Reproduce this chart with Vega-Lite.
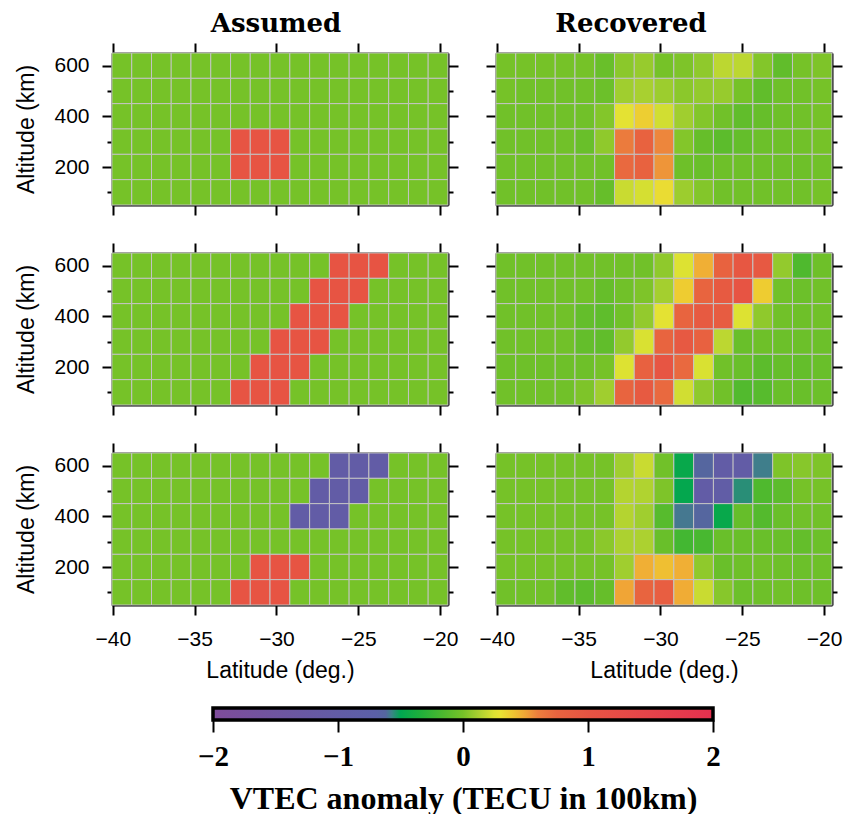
{
"$schema": "https://vega.github.io/schema/vega-lite/v6.json",
"background": "white",
"padding": {"left": 15, "top": 11, "right": 5, "bottom": 0},
"config": {
  "view": {"stroke": null},
  "axis": {"tickSize": 10, "tickWidth": 2, "domainWidth": 2, "domainColor": "black", "tickColor": "black", "zindex": 1, "grid": false, "labelFont": "Liberation Sans", "labelFontSize": 21, "labelColor": "black", "titleFont": "Liberation Sans", "titleFontSize": 23, "titleFontWeight": "normal", "titleColor": "black", "labelPadding": 13, "labelFlush": false}
},
"datasets": {
"A1": [
{"lat":-39.45,"alt":600,"v":0},{"lat":-38.24,"alt":600,"v":0},{"lat":-37.03,"alt":600,"v":0},{"lat":-35.83,"alt":600,"v":0},{"lat":-34.62,"alt":600,"v":0},{"lat":-33.41,"alt":600,"v":0},{"lat":-32.2,"alt":600,"v":0},{"lat":-31,"alt":600,"v":0},{"lat":-29.79,"alt":600,"v":0},{"lat":-28.58,"alt":600,"v":0},{"lat":-27.37,"alt":600,"v":0},{"lat":-26.16,"alt":600,"v":0},{"lat":-24.96,"alt":600,"v":0},{"lat":-23.75,"alt":600,"v":0},{"lat":-22.54,"alt":600,"v":0},{"lat":-21.33,"alt":600,"v":0},{"lat":-20.13,"alt":600,"v":0},
{"lat":-39.45,"alt":500,"v":0},{"lat":-38.24,"alt":500,"v":0},{"lat":-37.03,"alt":500,"v":0},{"lat":-35.83,"alt":500,"v":0},{"lat":-34.62,"alt":500,"v":0},{"lat":-33.41,"alt":500,"v":0},{"lat":-32.2,"alt":500,"v":0},{"lat":-31,"alt":500,"v":0},{"lat":-29.79,"alt":500,"v":0},{"lat":-28.58,"alt":500,"v":0},{"lat":-27.37,"alt":500,"v":0},{"lat":-26.16,"alt":500,"v":0},{"lat":-24.96,"alt":500,"v":0},{"lat":-23.75,"alt":500,"v":0},{"lat":-22.54,"alt":500,"v":0},{"lat":-21.33,"alt":500,"v":0},{"lat":-20.13,"alt":500,"v":0},
{"lat":-39.45,"alt":400,"v":0},{"lat":-38.24,"alt":400,"v":0},{"lat":-37.03,"alt":400,"v":0},{"lat":-35.83,"alt":400,"v":0},{"lat":-34.62,"alt":400,"v":0},{"lat":-33.41,"alt":400,"v":0},{"lat":-32.2,"alt":400,"v":0},{"lat":-31,"alt":400,"v":0},{"lat":-29.79,"alt":400,"v":0},{"lat":-28.58,"alt":400,"v":0},{"lat":-27.37,"alt":400,"v":0},{"lat":-26.16,"alt":400,"v":0},{"lat":-24.96,"alt":400,"v":0},{"lat":-23.75,"alt":400,"v":0},{"lat":-22.54,"alt":400,"v":0},{"lat":-21.33,"alt":400,"v":0},{"lat":-20.13,"alt":400,"v":0},
{"lat":-39.45,"alt":300,"v":0},{"lat":-38.24,"alt":300,"v":0},{"lat":-37.03,"alt":300,"v":0},{"lat":-35.83,"alt":300,"v":0},{"lat":-34.62,"alt":300,"v":0},{"lat":-33.41,"alt":300,"v":0},{"lat":-32.2,"alt":300,"v":1},{"lat":-31,"alt":300,"v":1},{"lat":-29.79,"alt":300,"v":1},{"lat":-28.58,"alt":300,"v":0},{"lat":-27.37,"alt":300,"v":0},{"lat":-26.16,"alt":300,"v":0},{"lat":-24.96,"alt":300,"v":0},{"lat":-23.75,"alt":300,"v":0},{"lat":-22.54,"alt":300,"v":0},{"lat":-21.33,"alt":300,"v":0},{"lat":-20.13,"alt":300,"v":0},
{"lat":-39.45,"alt":200,"v":0},{"lat":-38.24,"alt":200,"v":0},{"lat":-37.03,"alt":200,"v":0},{"lat":-35.83,"alt":200,"v":0},{"lat":-34.62,"alt":200,"v":0},{"lat":-33.41,"alt":200,"v":0},{"lat":-32.2,"alt":200,"v":1},{"lat":-31,"alt":200,"v":1},{"lat":-29.79,"alt":200,"v":1},{"lat":-28.58,"alt":200,"v":0},{"lat":-27.37,"alt":200,"v":0},{"lat":-26.16,"alt":200,"v":0},{"lat":-24.96,"alt":200,"v":0},{"lat":-23.75,"alt":200,"v":0},{"lat":-22.54,"alt":200,"v":0},{"lat":-21.33,"alt":200,"v":0},{"lat":-20.13,"alt":200,"v":0},
{"lat":-39.45,"alt":100,"v":0},{"lat":-38.24,"alt":100,"v":0},{"lat":-37.03,"alt":100,"v":0},{"lat":-35.83,"alt":100,"v":0},{"lat":-34.62,"alt":100,"v":0},{"lat":-33.41,"alt":100,"v":0},{"lat":-32.2,"alt":100,"v":0},{"lat":-31,"alt":100,"v":0},{"lat":-29.79,"alt":100,"v":0},{"lat":-28.58,"alt":100,"v":0},{"lat":-27.37,"alt":100,"v":0},{"lat":-26.16,"alt":100,"v":0},{"lat":-24.96,"alt":100,"v":0},{"lat":-23.75,"alt":100,"v":0},{"lat":-22.54,"alt":100,"v":0},{"lat":-21.33,"alt":100,"v":0},{"lat":-20.13,"alt":100,"v":0}
],
"R1": [
{"lat":-39.45,"alt":600,"v":0},{"lat":-38.24,"alt":600,"v":0},{"lat":-37.03,"alt":600,"v":0},{"lat":-35.83,"alt":600,"v":0},{"lat":-34.62,"alt":600,"v":0},{"lat":-33.41,"alt":600,"v":-0.05},{"lat":-32.2,"alt":600,"v":0.05},{"lat":-31,"alt":600,"v":0.08},{"lat":-29.79,"alt":600,"v":0},{"lat":-28.58,"alt":600,"v":0.02},{"lat":-27.37,"alt":600,"v":0.06},{"lat":-26.16,"alt":600,"v":0.17},{"lat":-24.96,"alt":600,"v":0.17},{"lat":-23.75,"alt":600,"v":0.03},{"lat":-22.54,"alt":600,"v":-0.08},{"lat":-21.33,"alt":600,"v":0},{"lat":-20.13,"alt":600,"v":0.02},
{"lat":-39.45,"alt":500,"v":0},{"lat":-38.24,"alt":500,"v":-0.02},{"lat":-37.03,"alt":500,"v":-0.02},{"lat":-35.83,"alt":500,"v":-0.02},{"lat":-34.62,"alt":500,"v":-0.02},{"lat":-33.41,"alt":500,"v":-0.04},{"lat":-32.2,"alt":500,"v":0.1},{"lat":-31,"alt":500,"v":0.12},{"lat":-29.79,"alt":500,"v":0.09},{"lat":-28.58,"alt":500,"v":0.05},{"lat":-27.37,"alt":500,"v":0.07},{"lat":-26.16,"alt":500,"v":0.08},{"lat":-24.96,"alt":500,"v":0},{"lat":-23.75,"alt":500,"v":-0.08},{"lat":-22.54,"alt":500,"v":-0.03},{"lat":-21.33,"alt":500,"v":-0.02},{"lat":-20.13,"alt":500,"v":0},
{"lat":-39.45,"alt":400,"v":-0.02},{"lat":-38.24,"alt":400,"v":-0.02},{"lat":-37.03,"alt":400,"v":-0.02},{"lat":-35.83,"alt":400,"v":-0.02},{"lat":-34.62,"alt":400,"v":-0.02},{"lat":-33.41,"alt":400,"v":0.03},{"lat":-32.2,"alt":400,"v":0.28},{"lat":-31,"alt":400,"v":0.37},{"lat":-29.79,"alt":400,"v":0.22},{"lat":-28.58,"alt":400,"v":0.1},{"lat":-27.37,"alt":400,"v":0.03},{"lat":-26.16,"alt":400,"v":-0.02},{"lat":-24.96,"alt":400,"v":-0.08},{"lat":-23.75,"alt":400,"v":-0.06},{"lat":-22.54,"alt":400,"v":-0.03},{"lat":-21.33,"alt":400,"v":-0.02},{"lat":-20.13,"alt":400,"v":0},
{"lat":-39.45,"alt":300,"v":-0.02},{"lat":-38.24,"alt":300,"v":-0.02},{"lat":-37.03,"alt":300,"v":-0.02},{"lat":-35.83,"alt":300,"v":-0.02},{"lat":-34.62,"alt":300,"v":-0.05},{"lat":-33.41,"alt":300,"v":0.06},{"lat":-32.2,"alt":300,"v":0.62},{"lat":-31,"alt":300,"v":0.78},{"lat":-29.79,"alt":300,"v":0.58},{"lat":-28.58,"alt":300,"v":0.03},{"lat":-27.37,"alt":300,"v":-0.06},{"lat":-26.16,"alt":300,"v":-0.1},{"lat":-24.96,"alt":300,"v":-0.07},{"lat":-23.75,"alt":300,"v":-0.04},{"lat":-22.54,"alt":300,"v":-0.03},{"lat":-21.33,"alt":300,"v":-0.02},{"lat":-20.13,"alt":300,"v":0},
{"lat":-39.45,"alt":200,"v":-0.02},{"lat":-38.24,"alt":200,"v":-0.02},{"lat":-37.03,"alt":200,"v":-0.02},{"lat":-35.83,"alt":200,"v":-0.02},{"lat":-34.62,"alt":200,"v":-0.02},{"lat":-33.41,"alt":200,"v":-0.02},{"lat":-32.2,"alt":200,"v":0.72},{"lat":-31,"alt":200,"v":0.78},{"lat":-29.79,"alt":200,"v":0.54},{"lat":-28.58,"alt":200,"v":-0.03},{"lat":-27.37,"alt":200,"v":-0.05},{"lat":-26.16,"alt":200,"v":-0.03},{"lat":-24.96,"alt":200,"v":-0.03},{"lat":-23.75,"alt":200,"v":-0.03},{"lat":-22.54,"alt":200,"v":-0.03},{"lat":-21.33,"alt":200,"v":-0.03},{"lat":-20.13,"alt":200,"v":-0.02},
{"lat":-39.45,"alt":100,"v":-0.02},{"lat":-38.24,"alt":100,"v":-0.02},{"lat":-37.03,"alt":100,"v":-0.02},{"lat":-35.83,"alt":100,"v":-0.02},{"lat":-34.62,"alt":100,"v":-0.02},{"lat":-33.41,"alt":100,"v":-0.06},{"lat":-32.2,"alt":100,"v":0.2},{"lat":-31,"alt":100,"v":0.23},{"lat":-29.79,"alt":100,"v":0.32},{"lat":-28.58,"alt":100,"v":0.09},{"lat":-27.37,"alt":100,"v":0.03},{"lat":-26.16,"alt":100,"v":-0.02},{"lat":-24.96,"alt":100,"v":-0.02},{"lat":-23.75,"alt":100,"v":-0.02},{"lat":-22.54,"alt":100,"v":-0.02},{"lat":-21.33,"alt":100,"v":-0.02},{"lat":-20.13,"alt":100,"v":0}
],
"A2": [
{"lat":-39.45,"alt":600,"v":0},{"lat":-38.24,"alt":600,"v":0},{"lat":-37.03,"alt":600,"v":0},{"lat":-35.83,"alt":600,"v":0},{"lat":-34.62,"alt":600,"v":0},{"lat":-33.41,"alt":600,"v":0},{"lat":-32.2,"alt":600,"v":0},{"lat":-31,"alt":600,"v":0},{"lat":-29.79,"alt":600,"v":0},{"lat":-28.58,"alt":600,"v":0},{"lat":-27.37,"alt":600,"v":0},{"lat":-26.16,"alt":600,"v":1},{"lat":-24.96,"alt":600,"v":1},{"lat":-23.75,"alt":600,"v":1},{"lat":-22.54,"alt":600,"v":0},{"lat":-21.33,"alt":600,"v":0},{"lat":-20.13,"alt":600,"v":0},
{"lat":-39.45,"alt":500,"v":0},{"lat":-38.24,"alt":500,"v":0},{"lat":-37.03,"alt":500,"v":0},{"lat":-35.83,"alt":500,"v":0},{"lat":-34.62,"alt":500,"v":0},{"lat":-33.41,"alt":500,"v":0},{"lat":-32.2,"alt":500,"v":0},{"lat":-31,"alt":500,"v":0},{"lat":-29.79,"alt":500,"v":0},{"lat":-28.58,"alt":500,"v":0},{"lat":-27.37,"alt":500,"v":1},{"lat":-26.16,"alt":500,"v":1},{"lat":-24.96,"alt":500,"v":1},{"lat":-23.75,"alt":500,"v":0},{"lat":-22.54,"alt":500,"v":0},{"lat":-21.33,"alt":500,"v":0},{"lat":-20.13,"alt":500,"v":0},
{"lat":-39.45,"alt":400,"v":0},{"lat":-38.24,"alt":400,"v":0},{"lat":-37.03,"alt":400,"v":0},{"lat":-35.83,"alt":400,"v":0},{"lat":-34.62,"alt":400,"v":0},{"lat":-33.41,"alt":400,"v":0},{"lat":-32.2,"alt":400,"v":0},{"lat":-31,"alt":400,"v":0},{"lat":-29.79,"alt":400,"v":0},{"lat":-28.58,"alt":400,"v":1},{"lat":-27.37,"alt":400,"v":1},{"lat":-26.16,"alt":400,"v":1},{"lat":-24.96,"alt":400,"v":0},{"lat":-23.75,"alt":400,"v":0},{"lat":-22.54,"alt":400,"v":0},{"lat":-21.33,"alt":400,"v":0},{"lat":-20.13,"alt":400,"v":0},
{"lat":-39.45,"alt":300,"v":0},{"lat":-38.24,"alt":300,"v":0},{"lat":-37.03,"alt":300,"v":0},{"lat":-35.83,"alt":300,"v":0},{"lat":-34.62,"alt":300,"v":0},{"lat":-33.41,"alt":300,"v":0},{"lat":-32.2,"alt":300,"v":0},{"lat":-31,"alt":300,"v":0},{"lat":-29.79,"alt":300,"v":1},{"lat":-28.58,"alt":300,"v":1},{"lat":-27.37,"alt":300,"v":1},{"lat":-26.16,"alt":300,"v":0},{"lat":-24.96,"alt":300,"v":0},{"lat":-23.75,"alt":300,"v":0},{"lat":-22.54,"alt":300,"v":0},{"lat":-21.33,"alt":300,"v":0},{"lat":-20.13,"alt":300,"v":0},
{"lat":-39.45,"alt":200,"v":0},{"lat":-38.24,"alt":200,"v":0},{"lat":-37.03,"alt":200,"v":0},{"lat":-35.83,"alt":200,"v":0},{"lat":-34.62,"alt":200,"v":0},{"lat":-33.41,"alt":200,"v":0},{"lat":-32.2,"alt":200,"v":0},{"lat":-31,"alt":200,"v":1},{"lat":-29.79,"alt":200,"v":1},{"lat":-28.58,"alt":200,"v":1},{"lat":-27.37,"alt":200,"v":0},{"lat":-26.16,"alt":200,"v":0},{"lat":-24.96,"alt":200,"v":0},{"lat":-23.75,"alt":200,"v":0},{"lat":-22.54,"alt":200,"v":0},{"lat":-21.33,"alt":200,"v":0},{"lat":-20.13,"alt":200,"v":0},
{"lat":-39.45,"alt":100,"v":0},{"lat":-38.24,"alt":100,"v":0},{"lat":-37.03,"alt":100,"v":0},{"lat":-35.83,"alt":100,"v":0},{"lat":-34.62,"alt":100,"v":0},{"lat":-33.41,"alt":100,"v":0},{"lat":-32.2,"alt":100,"v":1},{"lat":-31,"alt":100,"v":1},{"lat":-29.79,"alt":100,"v":1},{"lat":-28.58,"alt":100,"v":0},{"lat":-27.37,"alt":100,"v":0},{"lat":-26.16,"alt":100,"v":0},{"lat":-24.96,"alt":100,"v":0},{"lat":-23.75,"alt":100,"v":0},{"lat":-22.54,"alt":100,"v":0},{"lat":-21.33,"alt":100,"v":0},{"lat":-20.13,"alt":100,"v":0}
],
"R2": [
{"lat":-39.45,"alt":600,"v":-0.02},{"lat":-38.24,"alt":600,"v":-0.02},{"lat":-37.03,"alt":600,"v":-0.02},{"lat":-35.83,"alt":600,"v":-0.02},{"lat":-34.62,"alt":600,"v":-0.02},{"lat":-33.41,"alt":600,"v":-0.02},{"lat":-32.2,"alt":600,"v":-0.02},{"lat":-31,"alt":600,"v":-0.02},{"lat":-29.79,"alt":600,"v":0.06},{"lat":-28.58,"alt":600,"v":0.25},{"lat":-27.37,"alt":600,"v":0.47},{"lat":-26.16,"alt":600,"v":0.78},{"lat":-24.96,"alt":600,"v":0.95},{"lat":-23.75,"alt":600,"v":0.92},{"lat":-22.54,"alt":600,"v":0.07},{"lat":-21.33,"alt":600,"v":-0.15},{"lat":-20.13,"alt":600,"v":-0.03},
{"lat":-39.45,"alt":500,"v":-0.02},{"lat":-38.24,"alt":500,"v":-0.02},{"lat":-37.03,"alt":500,"v":-0.02},{"lat":-35.83,"alt":500,"v":-0.02},{"lat":-34.62,"alt":500,"v":-0.02},{"lat":-33.41,"alt":500,"v":-0.06},{"lat":-32.2,"alt":500,"v":-0.02},{"lat":-31,"alt":500,"v":0.02},{"lat":-29.79,"alt":500,"v":0.11},{"lat":-28.58,"alt":500,"v":0.38},{"lat":-27.37,"alt":500,"v":0.75},{"lat":-26.16,"alt":500,"v":0.9},{"lat":-24.96,"alt":500,"v":1.0},{"lat":-23.75,"alt":500,"v":0.38},{"lat":-22.54,"alt":500,"v":-0.02},{"lat":-21.33,"alt":500,"v":-0.04},{"lat":-20.13,"alt":500,"v":-0.02},
{"lat":-39.45,"alt":400,"v":-0.02},{"lat":-38.24,"alt":400,"v":-0.02},{"lat":-37.03,"alt":400,"v":-0.02},{"lat":-35.83,"alt":400,"v":-0.02},{"lat":-34.62,"alt":400,"v":-0.07},{"lat":-33.41,"alt":400,"v":-0.09},{"lat":-32.2,"alt":400,"v":-0.02},{"lat":-31,"alt":400,"v":0.07},{"lat":-29.79,"alt":400,"v":0.28},{"lat":-28.58,"alt":400,"v":0.75},{"lat":-27.37,"alt":400,"v":0.9},{"lat":-26.16,"alt":400,"v":0.88},{"lat":-24.96,"alt":400,"v":0.25},{"lat":-23.75,"alt":400,"v":0.06},{"lat":-22.54,"alt":400,"v":-0.02},{"lat":-21.33,"alt":400,"v":-0.03},{"lat":-20.13,"alt":400,"v":-0.02},
{"lat":-39.45,"alt":300,"v":-0.02},{"lat":-38.24,"alt":300,"v":-0.02},{"lat":-37.03,"alt":300,"v":-0.02},{"lat":-35.83,"alt":300,"v":-0.02},{"lat":-34.62,"alt":300,"v":-0.07},{"lat":-33.41,"alt":300,"v":-0.08},{"lat":-32.2,"alt":300,"v":0.07},{"lat":-31,"alt":300,"v":0.24},{"lat":-29.79,"alt":300,"v":0.75},{"lat":-28.58,"alt":300,"v":0.92},{"lat":-27.37,"alt":300,"v":0.8},{"lat":-26.16,"alt":300,"v":0.17},{"lat":-24.96,"alt":300,"v":-0.05},{"lat":-23.75,"alt":300,"v":-0.03},{"lat":-22.54,"alt":300,"v":-0.04},{"lat":-21.33,"alt":300,"v":-0.04},{"lat":-20.13,"alt":300,"v":-0.04},
{"lat":-39.45,"alt":200,"v":-0.03},{"lat":-38.24,"alt":200,"v":-0.03},{"lat":-37.03,"alt":200,"v":-0.03},{"lat":-35.83,"alt":200,"v":-0.03},{"lat":-34.62,"alt":200,"v":-0.03},{"lat":-33.41,"alt":200,"v":0},{"lat":-32.2,"alt":200,"v":0.25},{"lat":-31,"alt":200,"v":0.8},{"lat":-29.79,"alt":200,"v":0.98},{"lat":-28.58,"alt":200,"v":0.72},{"lat":-27.37,"alt":200,"v":0.24},{"lat":-26.16,"alt":200,"v":-0.02},{"lat":-24.96,"alt":200,"v":-0.05},{"lat":-23.75,"alt":200,"v":-0.1},{"lat":-22.54,"alt":200,"v":-0.06},{"lat":-21.33,"alt":200,"v":-0.07},{"lat":-20.13,"alt":200,"v":-0.05},
{"lat":-39.45,"alt":100,"v":-0.02},{"lat":-38.24,"alt":100,"v":-0.02},{"lat":-37.03,"alt":100,"v":-0.02},{"lat":-35.83,"alt":100,"v":-0.02},{"lat":-34.62,"alt":100,"v":0.02},{"lat":-33.41,"alt":100,"v":0.1},{"lat":-32.2,"alt":100,"v":0.75},{"lat":-31,"alt":100,"v":0.9},{"lat":-29.79,"alt":100,"v":0.72},{"lat":-28.58,"alt":100,"v":0.22},{"lat":-27.37,"alt":100,"v":0.06},{"lat":-26.16,"alt":100,"v":-0.02},{"lat":-24.96,"alt":100,"v":-0.14},{"lat":-23.75,"alt":100,"v":-0.12},{"lat":-22.54,"alt":100,"v":-0.05},{"lat":-21.33,"alt":100,"v":-0.05},{"lat":-20.13,"alt":100,"v":-0.04}
],
"A3": [
{"lat":-39.45,"alt":600,"v":0},{"lat":-38.24,"alt":600,"v":0},{"lat":-37.03,"alt":600,"v":0},{"lat":-35.83,"alt":600,"v":0},{"lat":-34.62,"alt":600,"v":0},{"lat":-33.41,"alt":600,"v":0},{"lat":-32.2,"alt":600,"v":0},{"lat":-31,"alt":600,"v":0},{"lat":-29.79,"alt":600,"v":0},{"lat":-28.58,"alt":600,"v":0},{"lat":-27.37,"alt":600,"v":0},{"lat":-26.16,"alt":600,"v":-1},{"lat":-24.96,"alt":600,"v":-1},{"lat":-23.75,"alt":600,"v":-1},{"lat":-22.54,"alt":600,"v":0},{"lat":-21.33,"alt":600,"v":0},{"lat":-20.13,"alt":600,"v":0},
{"lat":-39.45,"alt":500,"v":0},{"lat":-38.24,"alt":500,"v":0},{"lat":-37.03,"alt":500,"v":0},{"lat":-35.83,"alt":500,"v":0},{"lat":-34.62,"alt":500,"v":0},{"lat":-33.41,"alt":500,"v":0},{"lat":-32.2,"alt":500,"v":0},{"lat":-31,"alt":500,"v":0},{"lat":-29.79,"alt":500,"v":0},{"lat":-28.58,"alt":500,"v":0},{"lat":-27.37,"alt":500,"v":-1},{"lat":-26.16,"alt":500,"v":-1},{"lat":-24.96,"alt":500,"v":-1},{"lat":-23.75,"alt":500,"v":0},{"lat":-22.54,"alt":500,"v":0},{"lat":-21.33,"alt":500,"v":0},{"lat":-20.13,"alt":500,"v":0},
{"lat":-39.45,"alt":400,"v":0},{"lat":-38.24,"alt":400,"v":0},{"lat":-37.03,"alt":400,"v":0},{"lat":-35.83,"alt":400,"v":0},{"lat":-34.62,"alt":400,"v":0},{"lat":-33.41,"alt":400,"v":0},{"lat":-32.2,"alt":400,"v":0},{"lat":-31,"alt":400,"v":0},{"lat":-29.79,"alt":400,"v":0},{"lat":-28.58,"alt":400,"v":-1},{"lat":-27.37,"alt":400,"v":-1},{"lat":-26.16,"alt":400,"v":-1},{"lat":-24.96,"alt":400,"v":0},{"lat":-23.75,"alt":400,"v":0},{"lat":-22.54,"alt":400,"v":0},{"lat":-21.33,"alt":400,"v":0},{"lat":-20.13,"alt":400,"v":0},
{"lat":-39.45,"alt":300,"v":0},{"lat":-38.24,"alt":300,"v":0},{"lat":-37.03,"alt":300,"v":0},{"lat":-35.83,"alt":300,"v":0},{"lat":-34.62,"alt":300,"v":0},{"lat":-33.41,"alt":300,"v":0},{"lat":-32.2,"alt":300,"v":0},{"lat":-31,"alt":300,"v":0},{"lat":-29.79,"alt":300,"v":0},{"lat":-28.58,"alt":300,"v":0},{"lat":-27.37,"alt":300,"v":0},{"lat":-26.16,"alt":300,"v":0},{"lat":-24.96,"alt":300,"v":0},{"lat":-23.75,"alt":300,"v":0},{"lat":-22.54,"alt":300,"v":0},{"lat":-21.33,"alt":300,"v":0},{"lat":-20.13,"alt":300,"v":0},
{"lat":-39.45,"alt":200,"v":0},{"lat":-38.24,"alt":200,"v":0},{"lat":-37.03,"alt":200,"v":0},{"lat":-35.83,"alt":200,"v":0},{"lat":-34.62,"alt":200,"v":0},{"lat":-33.41,"alt":200,"v":0},{"lat":-32.2,"alt":200,"v":0},{"lat":-31,"alt":200,"v":1},{"lat":-29.79,"alt":200,"v":1},{"lat":-28.58,"alt":200,"v":1},{"lat":-27.37,"alt":200,"v":0},{"lat":-26.16,"alt":200,"v":0},{"lat":-24.96,"alt":200,"v":0},{"lat":-23.75,"alt":200,"v":0},{"lat":-22.54,"alt":200,"v":0},{"lat":-21.33,"alt":200,"v":0},{"lat":-20.13,"alt":200,"v":0},
{"lat":-39.45,"alt":100,"v":0},{"lat":-38.24,"alt":100,"v":0},{"lat":-37.03,"alt":100,"v":0},{"lat":-35.83,"alt":100,"v":0},{"lat":-34.62,"alt":100,"v":0},{"lat":-33.41,"alt":100,"v":0},{"lat":-32.2,"alt":100,"v":1},{"lat":-31,"alt":100,"v":1},{"lat":-29.79,"alt":100,"v":1},{"lat":-28.58,"alt":100,"v":0},{"lat":-27.37,"alt":100,"v":0},{"lat":-26.16,"alt":100,"v":0},{"lat":-24.96,"alt":100,"v":0},{"lat":-23.75,"alt":100,"v":0},{"lat":-22.54,"alt":100,"v":0},{"lat":-21.33,"alt":100,"v":0},{"lat":-20.13,"alt":100,"v":0}
],
"R3": [
{"lat":-39.45,"alt":600,"v":0},{"lat":-38.24,"alt":600,"v":0},{"lat":-37.03,"alt":600,"v":0},{"lat":-35.83,"alt":600,"v":0},{"lat":-34.62,"alt":600,"v":0},{"lat":-33.41,"alt":600,"v":0},{"lat":-32.2,"alt":600,"v":0.1},{"lat":-31,"alt":600,"v":0.2},{"lat":-29.79,"alt":600,"v":-0.02},{"lat":-28.58,"alt":600,"v":-0.46},{"lat":-27.37,"alt":600,"v":-0.62},{"lat":-26.16,"alt":600,"v":-1.0},{"lat":-24.96,"alt":600,"v":-1.0},{"lat":-23.75,"alt":600,"v":-0.58},{"lat":-22.54,"alt":600,"v":0.02},{"lat":-21.33,"alt":600,"v":0.04},{"lat":-20.13,"alt":600,"v":0.02},
{"lat":-39.45,"alt":500,"v":0},{"lat":-38.24,"alt":500,"v":0},{"lat":-37.03,"alt":500,"v":0},{"lat":-35.83,"alt":500,"v":0},{"lat":-34.62,"alt":500,"v":0},{"lat":-33.41,"alt":500,"v":0},{"lat":-32.2,"alt":500,"v":0.15},{"lat":-31,"alt":500,"v":0.14},{"lat":-29.79,"alt":500,"v":0.02},{"lat":-28.58,"alt":500,"v":-0.48},{"lat":-27.37,"alt":500,"v":-1.0},{"lat":-26.16,"alt":500,"v":-0.95},{"lat":-24.96,"alt":500,"v":-0.55},{"lat":-23.75,"alt":500,"v":-0.15},{"lat":-22.54,"alt":500,"v":-0.1},{"lat":-21.33,"alt":500,"v":0},{"lat":-20.13,"alt":500,"v":0},
{"lat":-39.45,"alt":400,"v":0},{"lat":-38.24,"alt":400,"v":0},{"lat":-37.03,"alt":400,"v":0},{"lat":-35.83,"alt":400,"v":0},{"lat":-34.62,"alt":400,"v":0},{"lat":-33.41,"alt":400,"v":0},{"lat":-32.2,"alt":400,"v":0.15},{"lat":-31,"alt":400,"v":0.1},{"lat":-29.79,"alt":400,"v":-0.12},{"lat":-28.58,"alt":400,"v":-0.59},{"lat":-27.37,"alt":400,"v":-0.62},{"lat":-26.16,"alt":400,"v":-0.46},{"lat":-24.96,"alt":400,"v":-0.06},{"lat":-23.75,"alt":400,"v":-0.13},{"lat":-22.54,"alt":400,"v":-0.05},{"lat":-21.33,"alt":400,"v":-0.02},{"lat":-20.13,"alt":400,"v":-0.02},
{"lat":-39.45,"alt":300,"v":0},{"lat":-38.24,"alt":300,"v":0},{"lat":-37.03,"alt":300,"v":0},{"lat":-35.83,"alt":300,"v":0},{"lat":-34.62,"alt":300,"v":0},{"lat":-33.41,"alt":300,"v":0.05},{"lat":-32.2,"alt":300,"v":0.13},{"lat":-31,"alt":300,"v":0.13},{"lat":-29.79,"alt":300,"v":-0.05},{"lat":-28.58,"alt":300,"v":-0.2},{"lat":-27.37,"alt":300,"v":-0.18},{"lat":-26.16,"alt":300,"v":-0.05},{"lat":-24.96,"alt":300,"v":-0.05},{"lat":-23.75,"alt":300,"v":-0.05},{"lat":-22.54,"alt":300,"v":-0.05},{"lat":-21.33,"alt":300,"v":-0.07},{"lat":-20.13,"alt":300,"v":-0.04},
{"lat":-39.45,"alt":200,"v":0},{"lat":-38.24,"alt":200,"v":0},{"lat":-37.03,"alt":200,"v":0},{"lat":-35.83,"alt":200,"v":0},{"lat":-34.62,"alt":200,"v":0},{"lat":-33.41,"alt":200,"v":0},{"lat":-32.2,"alt":200,"v":0.1},{"lat":-31,"alt":200,"v":0.47},{"lat":-29.79,"alt":200,"v":0.42},{"lat":-28.58,"alt":200,"v":0.47},{"lat":-27.37,"alt":200,"v":0.06},{"lat":-26.16,"alt":200,"v":-0.05},{"lat":-24.96,"alt":200,"v":-0.03},{"lat":-23.75,"alt":200,"v":-0.02},{"lat":-22.54,"alt":200,"v":-0.03},{"lat":-21.33,"alt":200,"v":-0.04},{"lat":-20.13,"alt":200,"v":-0.03},
{"lat":-39.45,"alt":100,"v":-0.02},{"lat":-38.24,"alt":100,"v":-0.02},{"lat":-37.03,"alt":100,"v":-0.02},{"lat":-35.83,"alt":100,"v":-0.08},{"lat":-34.62,"alt":100,"v":-0.1},{"lat":-33.41,"alt":100,"v":-0.06},{"lat":-32.2,"alt":100,"v":0.5},{"lat":-31,"alt":100,"v":0.75},{"lat":-29.79,"alt":100,"v":0.85},{"lat":-28.58,"alt":100,"v":0.48},{"lat":-27.37,"alt":100,"v":0.2},{"lat":-26.16,"alt":100,"v":0.04},{"lat":-24.96,"alt":100,"v":-0.04},{"lat":-23.75,"alt":100,"v":-0.03},{"lat":-22.54,"alt":100,"v":-0.02},{"lat":-21.33,"alt":100,"v":-0.03},{"lat":-20.13,"alt":100,"v":-0.03}
],
"bar": [{"lo": -2, "hi": 2}]
},
"spacing": 24,
"vconcat": [
{
"columns": 2,
"bounds": "flush",
"spacing": {"row": 48, "column": 48},
"concat": [
 {"width": 336, "height": 152, "data": {"name": "A1"},
  "title": {"text": "Assumed", "font": "DejaVu Serif", "fontSize": 26, "fontWeight": "bold", "color": "black", "anchor": "middle", "frame": "group", "baseline": "alphabetic", "offset": -16, "dx": -4},
  "layer": [
   {"mark": {"type": "rect", "width": 19.8, "height": 25.4, "stroke": "#c4c4c4", "strokeWidth": 1},
    "encoding": {
     "x": {"field": "lat", "type": "quantitative", "scale": {"domain": [-40.05, -19.52], "nice": false, "zero": false}, "axis": {"orient": "bottom", "values": [-40, -35, -30, -25, -20], "labels": false, "title": null}},
     "y": {"field": "alt", "type": "quantitative", "scale": {"domain": [50, 650], "nice": false, "zero": false}, "axis": {"orient": "left", "values": [100, 200, 300, 400, 500, 600], "tickSize": {"condition": {"test": "datum.value % 200 == 100", "value": 5}, "value": 10}, "labelExpr": "datum.value % 200 == 0 ? datum.label : ''", "title": "Altitude (km)", "titlePadding": 15}},
     "color": {"field": "v", "type": "quantitative", "legend": null, "scale": {"domain": [-2, -1.5, -1, -0.7, -0.62, -0.57, -0.5, -0.35, -0.15, 0, 0.12, 0.25, 0.3, 0.4, 0.5, 0.6, 0.75, 1, 1.5, 2], "range": ["#7f4c9b", "#6f55a0", "#625ca6", "#5b60a7", "#55669f", "#3a8486", "#00a651", "#1daf3c", "#4fb92e", "#76c228", "#a8d030", "#dde232", "#e9e233", "#efc631", "#f0a536", "#ec7e3d", "#e8643f", "#e75443", "#e6434a", "#e4304f"], "interpolate": "rgb", "clamp": true}}
    }},
   {"mark": {"type": "point", "opacity": 0, "size": 1},
    "encoding": {
     "x": {"field": "lat", "type": "quantitative", "axis": {"orient": "top", "values": [-40, -35, -30, -25, -20], "labels": false, "title": null}},
     "y": {"field": "alt", "type": "quantitative", "axis": {"orient": "right", "values": [100, 200, 300, 400, 500, 600], "tickSize": {"condition": {"test": "datum.value % 200 == 100", "value": 5}, "value": 10}, "labels": false, "title": null}}
    }}
  ],
  "resolve": {"axis": {"x": "independent", "y": "independent"}}
 },
 {"width": 336, "height": 152, "data": {"name": "R1"},
  "title": {"text": "Recovered", "font": "DejaVu Serif", "fontSize": 26, "fontWeight": "bold", "color": "black", "anchor": "middle", "frame": "group", "baseline": "alphabetic", "offset": -16, "dx": -33},
  "layer": [
   {"mark": {"type": "rect", "width": 19.8, "height": 25.4, "stroke": "#c4c4c4", "strokeWidth": 1},
    "encoding": {
     "x": {"field": "lat", "type": "quantitative", "scale": {"domain": [-40.05, -19.52], "nice": false, "zero": false}, "axis": {"orient": "bottom", "values": [-40, -35, -30, -25, -20], "labels": false, "title": null}},
     "y": {"field": "alt", "type": "quantitative", "scale": {"domain": [50, 650], "nice": false, "zero": false}, "axis": {"orient": "left", "values": [100, 200, 300, 400, 500, 600], "tickSize": {"condition": {"test": "datum.value % 200 == 100", "value": 5}, "value": 10}, "labels": false, "title": null}},
     "color": {"field": "v", "type": "quantitative", "legend": null, "scale": {"domain": [-2, -1.5, -1, -0.7, -0.62, -0.57, -0.5, -0.35, -0.15, 0, 0.12, 0.25, 0.3, 0.4, 0.5, 0.6, 0.75, 1, 1.5, 2], "range": ["#7f4c9b", "#6f55a0", "#625ca6", "#5b60a7", "#55669f", "#3a8486", "#00a651", "#1daf3c", "#4fb92e", "#76c228", "#a8d030", "#dde232", "#e9e233", "#efc631", "#f0a536", "#ec7e3d", "#e8643f", "#e75443", "#e6434a", "#e4304f"], "interpolate": "rgb", "clamp": true}}
    }},
   {"mark": {"type": "point", "opacity": 0, "size": 1},
    "encoding": {
     "x": {"field": "lat", "type": "quantitative", "axis": {"orient": "top", "values": [-40, -35, -30, -25, -20], "labels": false, "title": null}},
     "y": {"field": "alt", "type": "quantitative", "axis": {"orient": "right", "values": [100, 200, 300, 400, 500, 600], "tickSize": {"condition": {"test": "datum.value % 200 == 100", "value": 5}, "value": 10}, "labels": false, "title": null}}
    }}
  ],
  "resolve": {"axis": {"x": "independent", "y": "independent"}}
 },
 {"width": 336, "height": 152, "data": {"name": "A2"},
  "layer": [
   {"mark": {"type": "rect", "width": 19.8, "height": 25.4, "stroke": "#c4c4c4", "strokeWidth": 1},
    "encoding": {
     "x": {"field": "lat", "type": "quantitative", "scale": {"domain": [-40.05, -19.52], "nice": false, "zero": false}, "axis": {"orient": "bottom", "values": [-40, -35, -30, -25, -20], "labels": false, "title": null}},
     "y": {"field": "alt", "type": "quantitative", "scale": {"domain": [50, 650], "nice": false, "zero": false}, "axis": {"orient": "left", "values": [100, 200, 300, 400, 500, 600], "tickSize": {"condition": {"test": "datum.value % 200 == 100", "value": 5}, "value": 10}, "labelExpr": "datum.value % 200 == 0 ? datum.label : ''", "title": "Altitude (km)", "titlePadding": 15}},
     "color": {"field": "v", "type": "quantitative", "legend": null, "scale": {"domain": [-2, -1.5, -1, -0.7, -0.62, -0.57, -0.5, -0.35, -0.15, 0, 0.12, 0.25, 0.3, 0.4, 0.5, 0.6, 0.75, 1, 1.5, 2], "range": ["#7f4c9b", "#6f55a0", "#625ca6", "#5b60a7", "#55669f", "#3a8486", "#00a651", "#1daf3c", "#4fb92e", "#76c228", "#a8d030", "#dde232", "#e9e233", "#efc631", "#f0a536", "#ec7e3d", "#e8643f", "#e75443", "#e6434a", "#e4304f"], "interpolate": "rgb", "clamp": true}}
    }},
   {"mark": {"type": "point", "opacity": 0, "size": 1},
    "encoding": {
     "x": {"field": "lat", "type": "quantitative", "axis": {"orient": "top", "values": [-40, -35, -30, -25, -20], "labels": false, "title": null}},
     "y": {"field": "alt", "type": "quantitative", "axis": {"orient": "right", "values": [100, 200, 300, 400, 500, 600], "tickSize": {"condition": {"test": "datum.value % 200 == 100", "value": 5}, "value": 10}, "labels": false, "title": null}}
    }}
  ],
  "resolve": {"axis": {"x": "independent", "y": "independent"}}
 },
 {"width": 336, "height": 152, "data": {"name": "R2"},
  "layer": [
   {"mark": {"type": "rect", "width": 19.8, "height": 25.4, "stroke": "#c4c4c4", "strokeWidth": 1},
    "encoding": {
     "x": {"field": "lat", "type": "quantitative", "scale": {"domain": [-40.05, -19.52], "nice": false, "zero": false}, "axis": {"orient": "bottom", "values": [-40, -35, -30, -25, -20], "labels": false, "title": null}},
     "y": {"field": "alt", "type": "quantitative", "scale": {"domain": [50, 650], "nice": false, "zero": false}, "axis": {"orient": "left", "values": [100, 200, 300, 400, 500, 600], "tickSize": {"condition": {"test": "datum.value % 200 == 100", "value": 5}, "value": 10}, "labels": false, "title": null}},
     "color": {"field": "v", "type": "quantitative", "legend": null, "scale": {"domain": [-2, -1.5, -1, -0.7, -0.62, -0.57, -0.5, -0.35, -0.15, 0, 0.12, 0.25, 0.3, 0.4, 0.5, 0.6, 0.75, 1, 1.5, 2], "range": ["#7f4c9b", "#6f55a0", "#625ca6", "#5b60a7", "#55669f", "#3a8486", "#00a651", "#1daf3c", "#4fb92e", "#76c228", "#a8d030", "#dde232", "#e9e233", "#efc631", "#f0a536", "#ec7e3d", "#e8643f", "#e75443", "#e6434a", "#e4304f"], "interpolate": "rgb", "clamp": true}}
    }},
   {"mark": {"type": "point", "opacity": 0, "size": 1},
    "encoding": {
     "x": {"field": "lat", "type": "quantitative", "axis": {"orient": "top", "values": [-40, -35, -30, -25, -20], "labels": false, "title": null}},
     "y": {"field": "alt", "type": "quantitative", "axis": {"orient": "right", "values": [100, 200, 300, 400, 500, 600], "tickSize": {"condition": {"test": "datum.value % 200 == 100", "value": 5}, "value": 10}, "labels": false, "title": null}}
    }}
  ],
  "resolve": {"axis": {"x": "independent", "y": "independent"}}
 },
 {"width": 336, "height": 152, "data": {"name": "A3"},
  "layer": [
   {"mark": {"type": "rect", "width": 19.8, "height": 25.4, "stroke": "#c4c4c4", "strokeWidth": 1},
    "encoding": {
     "x": {"field": "lat", "type": "quantitative", "scale": {"domain": [-40.05, -19.52], "nice": false, "zero": false}, "axis": {"orient": "bottom", "values": [-40, -35, -30, -25, -20], "labelExpr": "replace(datum.label, '-', '−')", "title": "Latitude (deg.)", "titlePadding": 10}},
     "y": {"field": "alt", "type": "quantitative", "scale": {"domain": [50, 650], "nice": false, "zero": false}, "axis": {"orient": "left", "values": [100, 200, 300, 400, 500, 600], "tickSize": {"condition": {"test": "datum.value % 200 == 100", "value": 5}, "value": 10}, "labelExpr": "datum.value % 200 == 0 ? datum.label : ''", "title": "Altitude (km)", "titlePadding": 15}},
     "color": {"field": "v", "type": "quantitative", "legend": null, "scale": {"domain": [-2, -1.5, -1, -0.7, -0.62, -0.57, -0.5, -0.35, -0.15, 0, 0.12, 0.25, 0.3, 0.4, 0.5, 0.6, 0.75, 1, 1.5, 2], "range": ["#7f4c9b", "#6f55a0", "#625ca6", "#5b60a7", "#55669f", "#3a8486", "#00a651", "#1daf3c", "#4fb92e", "#76c228", "#a8d030", "#dde232", "#e9e233", "#efc631", "#f0a536", "#ec7e3d", "#e8643f", "#e75443", "#e6434a", "#e4304f"], "interpolate": "rgb", "clamp": true}}
    }},
   {"mark": {"type": "point", "opacity": 0, "size": 1},
    "encoding": {
     "x": {"field": "lat", "type": "quantitative", "axis": {"orient": "top", "values": [-40, -35, -30, -25, -20], "labels": false, "title": null}},
     "y": {"field": "alt", "type": "quantitative", "axis": {"orient": "right", "values": [100, 200, 300, 400, 500, 600], "tickSize": {"condition": {"test": "datum.value % 200 == 100", "value": 5}, "value": 10}, "labels": false, "title": null}}
    }}
  ],
  "resolve": {"axis": {"x": "independent", "y": "independent"}}
 },
 {"width": 336, "height": 152, "data": {"name": "R3"},
  "layer": [
   {"mark": {"type": "rect", "width": 19.8, "height": 25.4, "stroke": "#c4c4c4", "strokeWidth": 1},
    "encoding": {
     "x": {"field": "lat", "type": "quantitative", "scale": {"domain": [-40.05, -19.52], "nice": false, "zero": false}, "axis": {"orient": "bottom", "values": [-40, -35, -30, -25, -20], "labelExpr": "replace(datum.label, '-', '−')", "title": "Latitude (deg.)", "titlePadding": 10}},
     "y": {"field": "alt", "type": "quantitative", "scale": {"domain": [50, 650], "nice": false, "zero": false}, "axis": {"orient": "left", "values": [100, 200, 300, 400, 500, 600], "tickSize": {"condition": {"test": "datum.value % 200 == 100", "value": 5}, "value": 10}, "labels": false, "title": null}},
     "color": {"field": "v", "type": "quantitative", "legend": null, "scale": {"domain": [-2, -1.5, -1, -0.7, -0.62, -0.57, -0.5, -0.35, -0.15, 0, 0.12, 0.25, 0.3, 0.4, 0.5, 0.6, 0.75, 1, 1.5, 2], "range": ["#7f4c9b", "#6f55a0", "#625ca6", "#5b60a7", "#55669f", "#3a8486", "#00a651", "#1daf3c", "#4fb92e", "#76c228", "#a8d030", "#dde232", "#e9e233", "#efc631", "#f0a536", "#ec7e3d", "#e8643f", "#e75443", "#e6434a", "#e4304f"], "interpolate": "rgb", "clamp": true}}
    }},
   {"mark": {"type": "point", "opacity": 0, "size": 1},
    "encoding": {
     "x": {"field": "lat", "type": "quantitative", "axis": {"orient": "top", "values": [-40, -35, -30, -25, -20], "labels": false, "title": null}},
     "y": {"field": "alt", "type": "quantitative", "axis": {"orient": "right", "values": [100, 200, 300, 400, 500, 600], "tickSize": {"condition": {"test": "datum.value % 200 == 100", "value": 5}, "value": 10}, "labels": false, "title": null}}
    }}
  ],
  "resolve": {"axis": {"x": "independent", "y": "independent"}}
 }
]
},
{"width": 720, "height": 12, "data": {"name": "bar"},
 "mark": {"type": "rect", "stroke": "black", "strokeWidth": 3.5,
  "fill": {"gradient": "linear", "x1": 0, "y1": 0, "x2": 1, "y2": 0, "stops": [
   {"offset": 0, "color": "#7f4c9b"}, {"offset": 0.125, "color": "#6f55a0"}, {"offset": 0.25, "color": "#625ca6"}, {"offset": 0.325, "color": "#5b60a7"}, {"offset": 0.345, "color": "#55669f"}, {"offset": 0.3575, "color": "#3a8486"}, {"offset": 0.375, "color": "#00a651"}, {"offset": 0.4125, "color": "#1daf3c"}, {"offset": 0.4625, "color": "#4fb92e"}, {"offset": 0.5, "color": "#76c228"}, {"offset": 0.53, "color": "#a8d030"}, {"offset": 0.5625, "color": "#dde232"}, {"offset": 0.575, "color": "#e9e233"}, {"offset": 0.6, "color": "#efc631"}, {"offset": 0.625, "color": "#f0a536"}, {"offset": 0.65, "color": "#ec7e3d"}, {"offset": 0.6875, "color": "#e8643f"}, {"offset": 0.75, "color": "#e75443"}, {"offset": 0.875, "color": "#e6434a"}, {"offset": 1, "color": "#e4304f"}]}},
 "encoding": {
  "x": {"field": "lo", "type": "quantitative", "scale": {"domain": [-2.808, 2.952], "nice": false, "zero": false},
   "axis": {"orient": "bottom", "values": [-2, -1, 0, 1, 2], "domain": false, "tickSize": 12, "tickWidth": 2, "labelExpr": "replace(datum.label, '-', '−')", "labelFont": "Liberation Serif", "labelFontWeight": "bold", "labelFontSize": 29, "labelPadding": 10, "title": "VTEC anomaly (TECU in 100km)", "titleFont": "Liberation Serif", "titleFontWeight": "bold", "titleFontSize": 32, "titlePadding": 12, "titleX": 351, "titleAnchor": null, "titleAlign": "center"}},
  "x2": {"field": "hi"}
 }
}
]
}
